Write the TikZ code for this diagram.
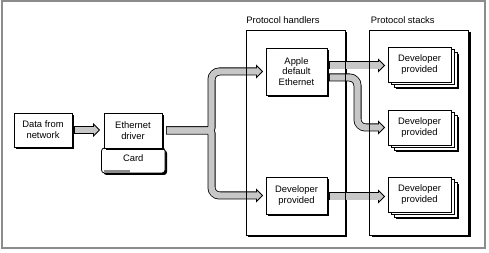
\documentclass[tikz,border=0pt]{standalone}
\usepackage{fontspec}
\setmainfont{Liberation Sans}
\usetikzlibrary{arrows.meta,shadows,calc}
\definecolor{pipegray}{gray}{0.78}
\definecolor{rimgray}{gray}{0.55}

\begin{document}
\begin{tikzpicture}[x=1pt,y=-1pt,line width=0.8pt,
  font=\fontsize{9.4}{10.8}\selectfont,
  boxshadow/.style={drop shadow={shadow xshift=2pt,shadow yshift=-2pt,fill=black,opacity=1}},
  box/.style={draw,fill=white,align=center,inner sep=0pt,outer sep=0pt,
    minimum width=61pt,minimum height=35pt,boxshadow},
  stackbox/.style={draw,fill=white,align=center,inner sep=0pt,outer sep=0pt,
    minimum width=63pt,minimum height=35pt,
    drop shadow={shadow xshift=8pt,shadow yshift=-7pt,fill=black,opacity=1},
    double copy shadow={shadow xshift=3pt,shadow yshift=-2.5pt,fill=white,draw=black,opacity=1}},
  frame/.style={draw,fill=white,inner sep=0pt,outer sep=0pt,
    minimum width=99pt,minimum height=205pt,boxshadow},
  title/.style={anchor=south west,inner sep=0pt},
  pipeback/.style={draw=black,line width=8pt,shorten <=0pt,shorten >=0pt,
    -{Triangle[length=7pt,width=14pt,line width=0.8pt,fill=pipegray]}},
  pipefront/.style={draw=pipegray,line width=6.4pt,shorten <=0.8pt,shorten >=6pt},
  pipe/.style={pipefront,preaction={pipeback}}]
\useasboundingbox (0,0) rectangle (489,253);
% outer border
\draw[rimgray,line width=2pt] (1.5,1.5) rectangle (484.5,248);
% frames
\node[frame] (handlers) at (295.5,132.5) {};
\node[frame] (stacks) at (419,132.5) {};
\node[title] at ([shift={(0,-6)}]handlers.north west) {Protocol handlers};
\node[title] at ([shift={(1,-6)}]stacks.north west) {Protocol stacks};
% input side
\node[box,minimum width=58pt,minimum height=34pt] (data) at (43,130) {Data from\\network};
\node[box,rounded corners=3pt,minimum width=63.5pt,minimum height=25pt,text depth=4pt] (card) at (133.25,160.5) {Card};
\fill[black!45] ([shift={(2,-3.4)}]card.south west) rectangle ([shift={(28,-0.4)}]card.south west);
\node[box,minimum width=58pt,minimum height=35pt] (eth) at (133,130.5) {Ethernet\\driver};
% handlers
\node[box,minimum height=47pt] (apple) at (296.5,71.5) {Apple\\default\\Ethernet};
\node[box,minimum height=37pt] (devh) at (296.5,195.5) {Developer\\provided};
% stacks
\node[stackbox] (stk1) at (419.5,64.5) {Developer\\provided};
\node[stackbox] (stk2) at (419.5,127.5) {Developer\\provided};
\node[stackbox] (stk3) at (419.5,194.5) {Developer\\provided};
% data to driver
\draw[pipe] ([xshift=2pt]data.east) -- ([xshift=-4pt]eth.west |- data.east);
% driver to handlers
\coordinate (fork) at (211.5,130.5);
\draw[pipeback] ([xshift=4pt]eth.east) [rounded corners=3pt] -- (fork) [rounded corners=8pt] -- (fork |- apple.west) -- ([xshift=-3pt]apple.west);
\draw[pipeback] ([xshift=4pt]eth.east) [rounded corners=3pt] -- (fork) [rounded corners=8pt] -- (fork |- devh.west) -- ([xshift=-3pt]devh.west);
\draw[pipefront] ([xshift=4pt]eth.east) [rounded corners=3pt] -- (fork) [rounded corners=8pt] -- (fork |- apple.west) -- ([xshift=-3pt]apple.west);
\draw[pipefront] ([xshift=4pt]eth.east) [rounded corners=3pt] -- (fork) [rounded corners=8pt] -- (fork |- devh.west) -- ([xshift=-3pt]devh.west);
% handlers to stacks
\coordinate (bend) at ($(apple.east)!0.5!(stk2.west)$);
\draw[pipe] ([shift={(2,-6)}]apple.east) coordinate (a1) -- ([xshift=-3pt]a1 -| stk1.west);
\draw[pipe,rounded corners=8pt] ([shift={(2,6)}]apple.east) -| (bend |- stk2.west) -- ([xshift=-3pt]stk2.west);
\draw[pipe] ([shift={(2,1)}]devh.east) coordinate (d1) -- ([xshift=-3pt]d1 -| stk3.west);
% frame edges over the pipes
\draw (handlers.north west) rectangle (handlers.south east);
\draw (stacks.north west) rectangle (stacks.south east);
\end{tikzpicture}
\end{document}
